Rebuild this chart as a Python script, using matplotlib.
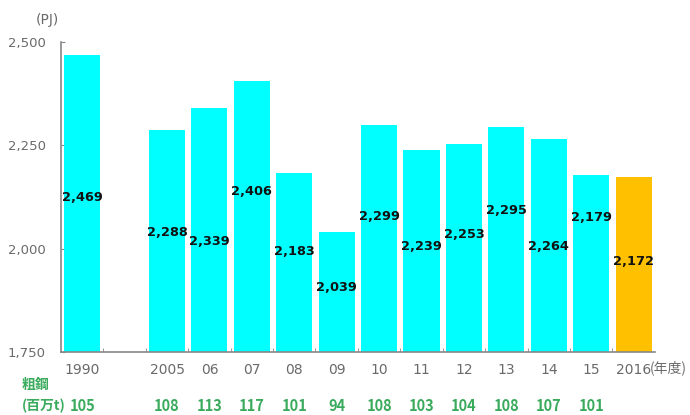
import matplotlib
matplotlib.use("Agg")
import matplotlib.pyplot as plt
import matplotlib.transforms as mtransforms
import numpy as np

# data
years = ["1990", "2005", "06", "07", "08", "09", "10", "11", "12", "13", "14", "15", "2016"]
energy = [2469, 2288, 2339, 2406, 2183, 2039, 2299, 2239, 2253, 2295, 2264, 2179, 2172]
steel = [105, 108, 113, 117, 101, 94, 108, 103, 104, 108, 107, 101]
slots = [0, 2, 3, 4, 5, 6, 7, 8, 9, 10, 11, 12, 13]  # one empty slot after 1990
yticks = [1750, 2000, 2250, 2500]

# where the value labels sit inside the bars (layout, not data)
label_y = [2123, 2040, 2016, 2137, 1992, 1907, 2077, 2004, 2035, 2091, 2004, 2074, 1968]

CYAN = "#00ffff"
ORANGE = "#ffc000"
GREEN = "#3aaa5c"
GRAY = "#6a6a6a"
JP = ["Noto Sans CJK JP", "DejaVu Sans"]

fig = plt.figure(figsize=(6.9, 4.15), dpi=100)
ax = fig.add_axes([0.0884, 0.152, 0.8606, 0.747])

x = np.array(slots) + 0.5
colors = [CYAN] * (len(energy) - 1) + [ORANGE]
ax.bar(x, np.array(energy) - 1750, bottom=1750, width=0.85, color=colors, zorder=2)

for xi, v, ly in zip(x, energy, label_y):
    ax.text(xi, ly, f"{v:,}", ha="center", va="center", fontsize=9.3,
            fontweight="bold", color="#111111", zorder=3)

ax.set_xlim(0, 14)
ax.set_ylim(1750, 2500)
ax.set_yticks(yticks)
ax.set_yticklabels([f"{t:,}" for t in yticks])
ax.set_xticks(x)
ax.set_xticklabels(years)
ax.set_xticks(np.arange(1, 14), minor=True)

ax.tick_params(axis="x", which="major", length=0, pad=8, labelsize=10, labelcolor=GRAY)
ax.tick_params(axis="x", which="minor", direction="in", length=3, color="#888888")
ax.tick_params(axis="y", direction="in", length=3, color="#888888", pad=11,
               labelsize=9.5, labelcolor=GRAY)

for s in ["top", "right"]:
    ax.spines[s].set_visible(False)
for s in ["left", "bottom"]:
    ax.spines[s].set_color("#888888")
    ax.spines[s].set_linewidth(1.2)

# unit labels
fig.text(47 / 690, 1 - 20 / 415, "(PJ)", ha="center", va="center", fontsize=10, color=GRAY)
fig.text(668 / 690, 1 - 368 / 415, "(年度)", ha="center", va="center", fontsize=10,
         color=GRAY, family=JP)

# crude steel row
fig.text(22 / 690, 1 - 385 / 415, "粗鋼", ha="left", va="center", fontsize=10,
         color=GREEN, fontweight="bold", family=JP)
fig.text(22 / 690, 1 - 406 / 415, "(百万t)", ha="left", va="center", fontsize=10,
         color=GREEN, fontweight="bold", family=JP)
trans = mtransforms.blended_transform_factory(ax.transData, fig.transFigure)
for xi, s in zip(x, steel):
    ax.text(xi, 1 - 406 / 415, str(s), transform=trans, ha="center", va="center",
            fontsize=10.5, color=GREEN, fontweight="bold", family=JP, clip_on=False)

fig.savefig("out.png", dpi=100)
